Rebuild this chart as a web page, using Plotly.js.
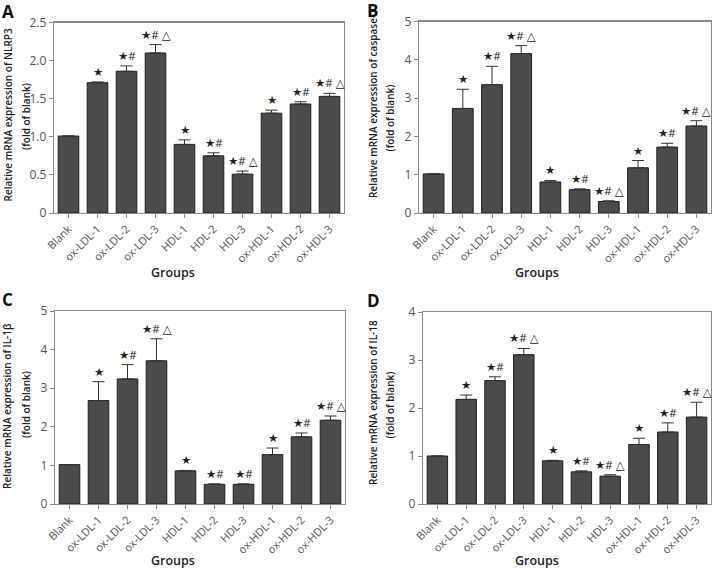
<!DOCTYPE html>
<html>
<head>
<meta charset="utf-8">
<script src="https://cdn.plot.ly/plotly-3.0.1.min.js"></script>
<style>html,body{margin:0;padding:0;background:#fff;}#chart{width:713px;height:570px;}</style>
</head>
<body>
<div id="chart"></div>
<script>
// ---- data ----
const groups = ['Blank','ox-LDL-1','ox-LDL-2','ox-LDL-3','HDL-1','HDL-2','HDL-3','ox-HDL-1','ox-HDL-2','ox-HDL-3'];

const nlrp3    = [1.01, 1.71, 1.86, 2.10, 0.90, 0.75, 0.51, 1.31, 1.43, 1.53];
const nlrp3Err = [0,    0.01, 0.07, 0.11, 0.06, 0.04, 0.04, 0.04, 0.03, 0.04];

const casp1    = [1.02, 2.73, 3.35, 4.16, 0.81, 0.61, 0.30, 1.18, 1.72, 2.27];
const casp1Err = [0,    0.50, 0.48, 0.21, 0.04, 0.02, 0.02, 0.19, 0.10, 0.14];

const il1b     = [1.02, 2.68, 3.24, 3.71, 0.86, 0.51, 0.51, 1.28, 1.74, 2.17];
const il1bErr  = [0,    0.49, 0.37, 0.57, 0.01, 0.01, 0.01, 0.17, 0.10, 0.11];

const il18     = [1.00, 2.18, 2.57, 3.11, 0.90, 0.67, 0.58, 1.24, 1.50, 1.81];
const il18Err  = [0,    0.09, 0.08, 0.13, 0.01, 0.02, 0.03, 0.13, 0.19, 0.31];

const sigA = ['', '★', '★#', '★# △', '★', '★#', '★# △', '★', '★#', '★# △'];
const sigB = ['', '★', '★#', '★# △', '★', '★#', '★# △', '★', '★#', '★# △'];
const sigC = ['', '★', '★#', '★# △', '★', '★#', '★#', '★', '★#', '★# △'];
const sigD = ['', '★', '★#', '★# △', '★', '★#', '★# △', '★', '★#', '★# △'];

const yTicksA = [0, 0.5, 1.0, 1.5, 2.0, 2.5];
const yTextA  = ['0', '0.5', '1.0', '1.5', '2.0', '2.5'];
const yTicksB = [0, 1, 2, 3, 4, 5];
const yTicksC = [0, 1, 2, 3, 4, 5];
const yTicksD = [0, 1, 2, 3, 4];

const yTitles = [
  'Relative mRNA expression of NLRP3',
  'Relative mRNA expression of caspase-1',
  'Relative mRNA expression of IL-1β',
  'Relative mRNA expression of IL-18'
];
const yTitle2 = '(fold of blank)';
const xTitle = 'Groups';
const panelLetters = ['A', 'B', 'C', 'D'];

// ---- layout helpers ----
const W = 713, H = 570;
const px = v => v / W;
const py = v => 1 - v / H;
const FONT = '"Open Sans", "DejaVu Sans", sans-serif';
const BAR = '#4b4b4b';
const AXC = '#8a8a8a';

const panels = [
  {vals: nlrp3, err: nlrp3Err, sig: sigA, xa: 'x',  ya: 'y'},
  {vals: casp1, err: casp1Err, sig: sigB, xa: 'x2', ya: 'y2'},
  {vals: il1b,  err: il1bErr,  sig: sigC, xa: 'x3', ya: 'y3'},
  {vals: il18,  err: il18Err,  sig: sigD, xa: 'x4', ya: 'y4'}
];

const traces = [];
const annotations = [];
panels.forEach(p => {
  traces.push({
    type: 'bar', x: groups, y: p.vals, xaxis: p.xa, yaxis: p.ya,
    marker: {color: BAR, line: {color: '#1e1e1e', width: 1}},
    error_y: {type: 'data', symmetric: false, array: p.err, arrayminus: p.err.map(() => 0),
              color: '#333', thickness: 1, width: 6},
    showlegend: false, hoverinfo: 'x+y'
  });
  p.sig.forEach((s, i) => {
    if (!s) return;
    annotations.push({
      xref: p.xa, yref: p.ya, x: groups[i], y: p.vals[i] + p.err[i], text: s,
      showarrow: false, xanchor: 'center', yanchor: 'bottom', yshift: 2, borderpad: 0,
      font: {family: FONT, size: 11.5, color: '#222'}
    });
  });
});

function xAxis(domain) {
  return {
    domain: domain, type: 'category', range: [-0.5, 9.5],
    showline: true, linecolor: AXC, linewidth: 1.3, mirror: true,
    ticks: 'outside', ticklen: 4, tickcolor: AXC, tickwidth: 1,
    tickangle: -45, tickfont: {family: FONT, size: 11, color: '#555'},
    showgrid: false, zeroline: false, fixedrange: true
  };
}
function yAxis(domain, range, vals, text) {
  return {
    domain: domain, range: range, tickvals: vals, ticktext: text || vals.map(String),
    showline: true, linecolor: AXC, linewidth: 1.3, mirror: true,
    ticks: 'outside', ticklen: 4, tickcolor: AXC, tickwidth: 1,
    tickfont: {family: FONT, size: 12, color: '#555'},
    showgrid: false, zeroline: false, fixedrange: true
  };
}

const titleFont = {family: FONT, size: 10, color: '#222', weight: 600};
// y titles: [line1 x, line2 x, line1 y, line2 y]
const yPos = [[7.5, 26, 115, 117], [373, 389.5, 104, 118], [7, 26, 406, 405], [373, 389.5, 403, 405]];
yPos.forEach((p, i) => {
  annotations.push({xref: 'paper', yref: 'paper', x: px(p[0]), y: py(p[2]), text: yTitles[i],
    textangle: -90, showarrow: false, xanchor: 'center', yanchor: 'middle', borderpad: 0, font: titleFont});
  annotations.push({xref: 'paper', yref: 'paper', x: px(p[1]), y: py(p[3]), text: yTitle2,
    textangle: -90, showarrow: false, xanchor: 'center', yanchor: 'middle', borderpad: 0, font: titleFont});
});
const gPos = [[173, 273], [537, 273], [173, 560], [537, 560]];
gPos.forEach(p => annotations.push({xref: 'paper', yref: 'paper', x: px(p[0]), y: py(p[1]), text: xTitle,
  showarrow: false, xanchor: 'center', yanchor: 'middle', borderpad: 0,
  font: {family: FONT, size: 12.5, color: '#222', weight: 600}}));
const lPos = [[7.5, 11.5], [372.5, 11], [7.5, 299], [373.5, 300]];
lPos.forEach((p, i) => annotations.push({xref: 'paper', yref: 'paper', x: px(p[0]), y: py(p[1]), text: panelLetters[i],
  showarrow: false, xanchor: 'center', yanchor: 'middle', borderpad: 0,
  font: {family: FONT, size: 17, color: '#111', weight: 700}}));

const layout = {
  width: W, height: H,
  margin: {l: 0, r: 0, t: 0, b: 0},
  paper_bgcolor: '#fff', plot_bgcolor: '#fff',
  bargap: 0.29,
  showlegend: false,
  xaxis:  xAxis([px(54), px(344)]),
  yaxis:  yAxis([py(213), py(22.5)], [0, 2.5], yTicksA, yTextA),
  xaxis2: xAxis([px(419), px(711)]),
  yaxis2: yAxis([py(213), py(21.5)], [0, 5], yTicksB),
  xaxis3: xAxis([px(55), px(345)]),
  yaxis3: yAxis([py(504), py(311)], [0, 5], yTicksC),
  xaxis4: xAxis([px(423), px(711)]),
  yaxis4: yAxis([py(504), py(312)], [0, 4], yTicksD),
  annotations: annotations
};
layout.xaxis.anchor = 'y'; layout.yaxis.anchor = 'x';
layout.xaxis2.anchor = 'y2'; layout.yaxis2.anchor = 'x2';
layout.xaxis3.anchor = 'y3'; layout.yaxis3.anchor = 'x3';
layout.xaxis4.anchor = 'y4'; layout.yaxis4.anchor = 'x4';

Plotly.newPlot('chart', traces, layout, {displayModeBar: false, staticPlot: true});
</script>
</body>
</html>
